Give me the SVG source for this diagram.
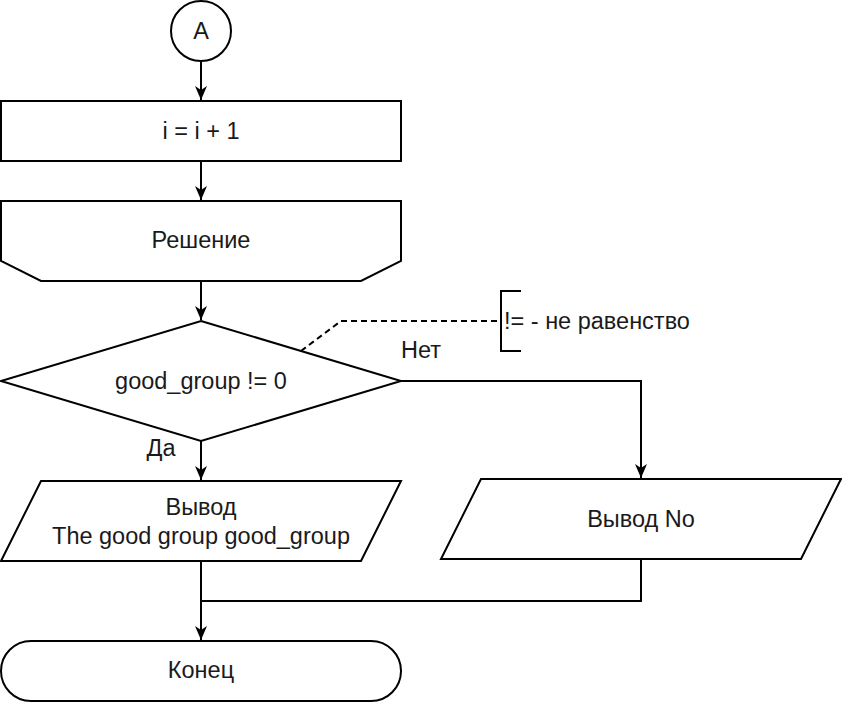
<svg xmlns="http://www.w3.org/2000/svg" width="842" height="702" viewBox="0 0 842 702">
<style>
.s{fill:#fff;stroke:#000;stroke-width:2}
.t{font-family:"Liberation Sans",Arial,sans-serif;font-size:23.5px;fill:#1a1a1a;text-anchor:middle;dominant-baseline:central}
.c{fill:none;stroke:#000;stroke-width:2}
.d{fill:none;stroke:#000;stroke-width:2;stroke-dasharray:6 4}
</style>
<defs>
<marker id="ah" viewBox="0 0 14 12" refX="14" refY="6" markerWidth="14" markerHeight="12" markerUnits="userSpaceOnUse" orient="auto">
<path d="M0,0 L14,6 L0,12 L4,6 z" fill="#000"/>
</marker>
</defs>
<rect width="842" height="702" fill="#fff"/>
<g id="connectors">
<line class="c" x1="201" y1="61" x2="201" y2="100" marker-end="url(#ah)"/>
<line class="c" x1="201" y1="161" x2="201" y2="200" marker-end="url(#ah)"/>
<line class="c" x1="201" y1="281" x2="201" y2="320" marker-end="url(#ah)"/>
<line class="c" x1="201" y1="441" x2="201" y2="480" marker-end="url(#ah)"/>
<polyline class="c" points="401,381 641,381 641,478" marker-end="url(#ah)"/>
<line class="c" x1="201" y1="561" x2="201" y2="640" marker-end="url(#ah)"/>
<polyline class="c" points="641,559 641,601 201,601"/>
<polyline class="d" points="301,351 341,321 501,321"/>
</g>
<g id="nodeA"><circle class="s" cx="201" cy="31" r="30"/><text class="t" x="201" y="31">A</text></g>
<g id="inc"><rect class="s" x="1" y="101" width="400" height="60"/><text class="t" x="201" y="131">i = i + 1</text></g>
<g id="loop"><path class="s" d="M1,201 H401 V261 L361,281 H41 L1,261 Z"/><text class="t" x="201" y="240">Решение</text></g>
<g id="decision"><path class="s" d="M201,321 L401,381 L201,441 L1,381 Z"/><text class="t" x="201" y="381">good_group != 0</text></g>
<g id="labelYes"><text class="t" x="161" y="448">Да</text></g>
<g id="labelNo"><text class="t" x="421" y="350">Нет</text></g>
<g id="outGood"><path class="s" d="M41,481 H401 L361,561 H1 Z"/><text class="t" x="201" y="507">Вывод</text><text class="t" x="201" y="536">The good group good_group</text></g>
<g id="outNo"><path class="s" d="M481,479 H841 L801,559 H441 Z"/><text class="t" x="641" y="519">Вывод No</text></g>
<g id="end"><rect class="s" x="1" y="641" width="400" height="60" rx="30"/><text class="t" x="201" y="670">Конец</text></g>
<g id="note"><polyline class="c" points="521,291 501,291 501,351 521,351"/><text class="t" x="504" y="321" style="text-anchor:start">!= - не равенство</text></g>
</svg>
